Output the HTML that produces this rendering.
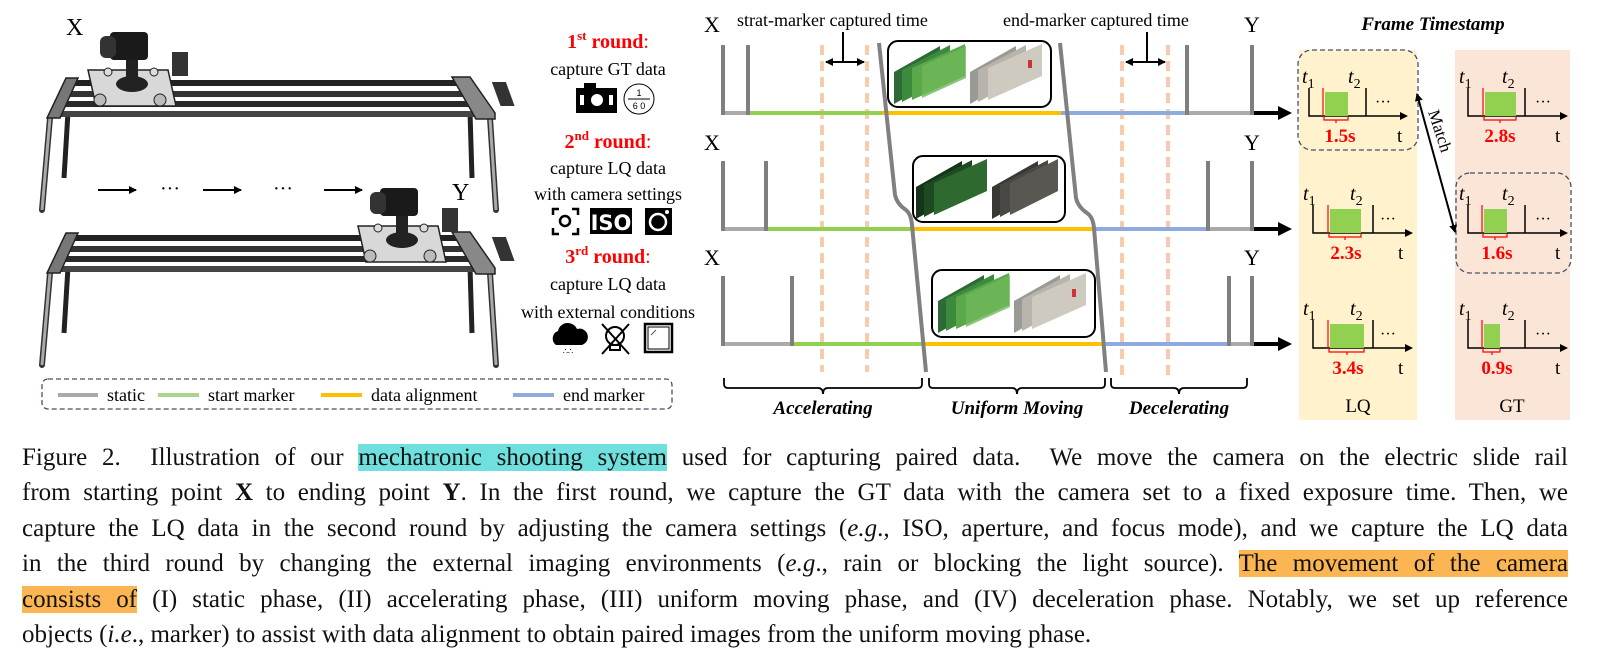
<!DOCTYPE html>
<html><head><meta charset="utf-8"><style>
html,body{margin:0;padding:0;background:#fff;}
body{width:1602px;height:659px;position:relative;overflow:hidden;font-family:"Liberation Serif",serif;}
svg{position:absolute;left:0;top:0;}
.cap{position:absolute;left:22px;width:1546px;font-size:25px;line-height:35.4px;color:#111;}
.cap div{text-align:justify;text-align-last:justify;white-space:nowrap;height:35.4px;}
.cap div.last{text-align-last:left;}
.hc{background:#6fe0de;}
.ho{background:#fbb552;}
</style></head><body>
<svg width="1602" height="430" viewBox="0 0 1602 430" font-family="Liberation Serif, serif">
<defs>
<marker id="ah" markerWidth="8" markerHeight="8" refX="7" refY="4" orient="auto" markerUnits="userSpaceOnUse"><path d="M0,0 L8,4 L0,8 z" fill="#000"/></marker>
<marker id="ah2" markerWidth="8" markerHeight="8" refX="1" refY="4" orient="auto" markerUnits="userSpaceOnUse"><path d="M8,0 L0,4 L8,8 z" fill="#000"/></marker>
<g id="rail">
 <line x1="50" y1="118" x2="42" y2="210" stroke="#333" stroke-width="6" stroke-linecap="round"/>
 <line x1="50" y1="118" x2="42" y2="210" stroke="#aaa" stroke-width="3"/>
 <line x1="68" y1="112" x2="64" y2="178" stroke="#222" stroke-width="5"/>
 <line x1="470" y1="112" x2="472" y2="178" stroke="#222" stroke-width="5"/>
 <line x1="490" y1="118" x2="496" y2="210" stroke="#333" stroke-width="6" stroke-linecap="round"/>
 <line x1="490" y1="118" x2="496" y2="210" stroke="#aaa" stroke-width="3"/>
 <polygon points="72,80 460,80 470,86 62,86" fill="#222"/>
 <rect x="60" y="91" width="420" height="6" fill="#333"/>
 <rect x="55" y="101" width="432" height="6" fill="#2a2a2a"/>
 <rect x="50" y="111" width="442" height="6" fill="#444"/>
 <polygon points="66,78 78,78 60,118 47,118" fill="#777" stroke="#222" stroke-width="1.5"/>
 <polygon points="452,77 470,77 495,113 495,119 476,119" fill="#888" stroke="#222" stroke-width="1.5"/>
 <rect x="462" y="82" width="14" height="24" fill="#333" transform="skewX(20)" />
</g>
<g id="cam">
 <polygon points="0,30 80,30 88,66 8,66" fill="#d8d8d8" stroke="#222" stroke-width="1.5"/>
 <circle cx="12" cy="60" r="6" fill="#bbb" stroke="#222"/><circle cx="72" cy="60" r="6" fill="#bbb" stroke="#222"/>
 <circle cx="20" cy="32" r="4" fill="#ddd" stroke="#222"/><circle cx="66" cy="32" r="4" fill="#ddd" stroke="#222"/>
 <ellipse cx="44" cy="44" rx="16" ry="8" fill="#222"/>
 <rect x="38" y="20" width="12" height="24" fill="#222"/>
 <rect x="22" y="-8" width="38" height="28" rx="4" fill="#1a1a1a"/>
 <rect x="12" y="-4" width="16" height="22" rx="6" fill="#333"/>
 <rect x="84" y="12" width="16" height="24" fill="#333"/>
</g>
</defs>

<use href="#rail"/>
<use href="#rail" transform="translate(0,155)"/>
<use href="#cam" transform="translate(88,40)"/>
<use href="#cam" transform="translate(358,196)"/>
<text x="66" y="35" font-size="24">X</text>
<text x="452" y="200" font-size="24">Y</text>
<g stroke="#000" stroke-width="2">
<line x1="98" y1="190" x2="136" y2="190" marker-end="url(#ah)"/>
<line x1="203" y1="190" x2="241" y2="190" marker-end="url(#ah)"/>
<line x1="324" y1="190" x2="362" y2="190" marker-end="url(#ah)"/>
</g>
<text x="170" y="195" font-size="20" text-anchor="middle">···</text>
<text x="283" y="195" font-size="20" text-anchor="middle">···</text>

<rect x="42" y="379" width="630" height="30" rx="6" fill="none" stroke="#44506a" stroke-width="1.3" stroke-dasharray="5,3"/>
<g stroke-width="4">
<line x1="58" y1="395" x2="98" y2="395" stroke="#aaa"/>
<line x1="158" y1="395" x2="199" y2="395" stroke="#a9d58e"/>
<line x1="321" y1="395" x2="362" y2="395" stroke="#fcc000"/>
<line x1="513" y1="395" x2="554" y2="395" stroke="#8faadc"/>
</g>
<g font-size="18">
<text x="107" y="401">static</text>
<text x="208" y="401">start marker</text>
<text x="371" y="401">data alignment</text>
<text x="563" y="401">end marker</text>
</g>

<g text-anchor="middle">
<text x="608" y="48" font-size="20" font-weight="bold" fill="#f00">1<tspan font-size="13" dy="-8">st</tspan><tspan dy="8"> round</tspan><tspan font-weight="normal">:</tspan></text>
<text x="608" y="75" font-size="18">capture GT data</text>
<text x="608" y="148" font-size="20" font-weight="bold" fill="#f00">2<tspan font-size="13" dy="-8">nd</tspan><tspan dy="8"> round</tspan><tspan font-weight="normal">:</tspan></text>
<text x="608" y="174" font-size="18">capture LQ data</text>
<text x="608" y="200" font-size="18">with camera settings</text>
<text x="608" y="263" font-size="20" font-weight="bold" fill="#f00">3<tspan font-size="13" dy="-8">rd</tspan><tspan dy="8"> round</tspan><tspan font-weight="normal">:</tspan></text>
<text x="608" y="290" font-size="18">capture LQ data</text>
<text x="608" y="318" font-size="18">with external conditions</text>
</g>
<rect x="576" y="88" width="41" height="25" fill="#000"/><rect x="584" y="83" width="12" height="6" fill="#000"/>
<circle cx="597" cy="100" r="6" fill="#fff"/><rect x="580" y="95" width="4" height="10" fill="#fff"/><rect x="609" y="95" width="4" height="10" fill="#fff"/>
<circle cx="639" cy="99" r="15" fill="#fff" stroke="#000" stroke-width="1"/><line x1="628" y1="99" x2="650" y2="99" stroke="#000"/>
<text x="639" y="96" font-size="9" text-anchor="middle" font-family="Liberation Sans,sans-serif">1</text>
<text x="639" y="109" font-size="9" text-anchor="middle" font-family="Liberation Sans,sans-serif">6 0</text>
<g fill="none" stroke="#000" stroke-width="2.5"><path d="M553,215 v-6 h6 M572,209 h6 v6 M578,228 v6 h-6 M559,234 h-6 v-6"/><circle cx="565" cy="221" r="5"/></g>
<rect x="590" y="208" width="42" height="26" fill="#000"/><text x="611" y="230" font-size="21" font-weight="bold" fill="#fff" text-anchor="middle" font-family="DejaVu Sans,sans-serif">ISO</text>
<rect x="645" y="208" width="27" height="27" fill="#000"/><circle cx="658" cy="222" r="8" fill="none" stroke="#fff" stroke-width="2.5"/><circle cx="667" cy="212" r="2" fill="#fff"/>
<path d="M556,345 a8,8 0 0 1 2,-14 a10,10 0 0 1 19,-2 a7,7 0 0 1 5,16 z" fill="#000"/>
<text x="568" y="354" font-size="8" text-anchor="middle">∴∴</text>
<g fill="none" stroke="#000" stroke-width="2"><circle cx="615" cy="336" r="9"/><path d="M610,345 h10 v5 h-10 z"/><line x1="602" y1="324" x2="629" y2="354"/><line x1="629" y1="324" x2="602" y2="354"/></g>
<rect x="645" y="324" width="27" height="28" fill="none" stroke="#000" stroke-width="2.5"/><rect x="648" y="327" width="21" height="22" fill="none" stroke="#000" stroke-width="1"/><line x1="651" y1="335" x2="656" y2="330" stroke="#555"/>

<g font-size="22"><text x="704" y="32">X</text><text x="704" y="150">X</text><text x="704" y="265">X</text>
<text x="1244" y="32">Y</text><text x="1244" y="150">Y</text><text x="1244" y="265">Y</text></g>
<text x="737" y="26" font-size="18">strat-marker captured time</text>
<text x="1003" y="26" font-size="18">end-marker captured time</text>
<g stroke="#f8cbad" stroke-width="4" stroke-dasharray="10,6">
<line x1="822" y1="45" x2="822" y2="372"/><line x1="867" y1="45" x2="867" y2="372"/>
<line x1="1122" y1="45" x2="1122" y2="375"/><line x1="1168" y1="45" x2="1168" y2="375"/>
</g>
<g stroke="#000" stroke-width="2">
<line x1="843" y1="32" x2="843" y2="62"/><line x1="826" y1="62" x2="864" y2="62" marker-start="url(#ah2)" marker-end="url(#ah)"/>
<line x1="1147" y1="32" x2="1147" y2="62"/><line x1="1126" y1="62" x2="1165" y2="62" marker-start="url(#ah2)" marker-end="url(#ah)"/>
</g>
<g stroke-width="4">
<line x1="723" y1="113" x2="748" y2="113" stroke="#aaa"/><line x1="748" y1="113" x2="882" y2="113" stroke="#92d050"/><line x1="882" y1="113" x2="1061" y2="113" stroke="#ffc000"/><line x1="1061" y1="113" x2="1187" y2="113" stroke="#8faadc"/><line x1="1187" y1="113" x2="1252" y2="113" stroke="#aaa"/>
<line x1="723" y1="229" x2="766" y2="229" stroke="#aaa"/><line x1="766" y1="229" x2="911" y2="229" stroke="#92d050"/><line x1="911" y1="229" x2="1093" y2="229" stroke="#ffc000"/><line x1="1093" y1="229" x2="1208" y2="229" stroke="#8faadc"/><line x1="1208" y1="229" x2="1252" y2="229" stroke="#aaa"/>
<line x1="723" y1="344" x2="792" y2="344" stroke="#aaa"/><line x1="792" y1="344" x2="924" y2="344" stroke="#92d050"/><line x1="924" y1="344" x2="1104" y2="344" stroke="#ffc000"/><line x1="1104" y1="344" x2="1229" y2="344" stroke="#8faadc"/><line x1="1229" y1="344" x2="1252" y2="344" stroke="#aaa"/>
</g>
<g stroke="#7f7f7f" stroke-width="4">
<line x1="723" y1="45" x2="723" y2="115"/><line x1="748" y1="45" x2="748" y2="115"/><line x1="1187" y1="45" x2="1187" y2="115"/><line x1="1252" y1="45" x2="1252" y2="115"/>
<line x1="723" y1="161" x2="723" y2="231"/><line x1="766" y1="161" x2="766" y2="231"/><line x1="1208" y1="161" x2="1208" y2="231"/><line x1="1252" y1="161" x2="1252" y2="231"/>
<line x1="723" y1="276" x2="723" y2="346"/><line x1="792" y1="276" x2="792" y2="346"/><line x1="1229" y1="276" x2="1229" y2="346"/><line x1="1252" y1="276" x2="1252" y2="346"/>
</g>
<g stroke="#000" stroke-width="4">
<line x1="1254" y1="113" x2="1280" y2="113"/><line x1="1254" y1="229" x2="1280" y2="229"/><line x1="1254" y1="344" x2="1280" y2="344"/></g>
<polygon points="1278,106 1292,113 1278,120" fill="#000"/><polygon points="1278,222 1292,229 1278,236" fill="#000"/><polygon points="1278,337 1292,344 1278,351" fill="#000"/>
<g fill="none" stroke="#808080" stroke-width="4">
<path d="M879,43 L895,195 Q897,204 906,210 Q911,214 912,225 L926,372"/>
<path d="M1060,43 L1076,198 Q1078,207 1087,213 Q1093,217 1094,228 L1106,372"/>
</g>
<g fill="none" stroke="#000" stroke-width="2">
<rect x="888" y="41" width="163" height="66" rx="10"/>
<rect x="913" y="156" width="152" height="66" rx="10"/>
<rect x="932" y="270" width="163" height="67" rx="10"/>
</g>
<g id="stk1">
<polygon points="894,104 894,72 940,46 940,78" fill="#2d6a35"/>
<polygon points="902,102 902,70 950,45 950,77" fill="#3c8a3e"/>
<polygon points="912,100 912,68 965,44 965,76" fill="#5aa84a"/>
<polygon points="922,98 922,66 966,46 966,78" fill="#6fb85a" opacity=".8"/>
<polygon points="970,104 970,72 1016,46 1016,78" fill="#9a9a95"/>
<polygon points="978,102 978,70 1026,45 1026,77" fill="#b8b4ab"/>
<polygon points="988,100 988,68 1042,44 1042,76" fill="#cfcac0"/>
<rect x="1028" y="60" width="4" height="8" fill="#c33"/>
</g>
<g transform="translate(22,115)"><polygon points="894,104 894,72 940,46 940,78" fill="#14351a"/><polygon points="902,102 902,70 950,45 950,77" fill="#1e4a22"/><polygon points="912,100 912,68 965,44 965,76" fill="#2e6a30"/>
<polygon points="970,104 970,72 1016,46 1016,78" fill="#3a3835"/><polygon points="978,102 978,70 1026,45 1026,77" fill="#4a4844"/><polygon points="988,100 988,68 1036,44 1036,76" fill="#5a5752"/></g>
<use href="#stk1" transform="translate(44,229)"/>
<g fill="none" stroke="#000" stroke-width="1.8">
<path d="M724,378 v6 q0,4 4,4 h90 q5,0 5,6 q0,-6 5,-6 h90 q4,0 4,-4 v-6"/>
<path d="M929,378 v6 q0,4 4,4 h79 q5,0 5,6 q0,-6 5,-6 h79 q4,0 4,-4 v-6"/>
<path d="M1111,378 v6 q0,4 4,4 h59 q5,0 5,6 q0,-6 5,-6 h59 q4,0 4,-4 v-6"/>
</g>
<g font-size="19" font-weight="bold" font-style="italic" text-anchor="middle">
<text x="823" y="414">Accelerating</text><text x="1017" y="414">Uniform Moving</text><text x="1179" y="414">Decelerating</text>
</g>

<text x="1433" y="30" font-size="19" font-weight="bold" font-style="italic" text-anchor="middle">Frame Timestamp</text>
<rect x="1299" y="50" width="118" height="370" fill="#fff2cc"/>
<rect x="1455" y="50" width="115" height="370" fill="#fbe5d6"/>
<text x="1358" y="412" font-size="19" text-anchor="middle">LQ</text>
<text x="1512" y="412" font-size="19" text-anchor="middle">GT</text>
<rect x="1298" y="50" width="120" height="100" rx="14" fill="none" stroke="#44506a" stroke-width="1.3" stroke-dasharray="5,3"/>
<rect x="1456" y="173" width="115" height="100" rx="14" fill="none" stroke="#44506a" stroke-width="1.3" stroke-dasharray="5,3"/>
<line x1="1417" y1="94" x2="1455" y2="232" stroke="#000" stroke-width="2" marker-start="url(#ah2)" marker-end="url(#ah)"/>
<text font-size="17" transform="translate(1428,112) rotate(72)">Match</text>

<g stroke="#000" stroke-width="1.5" fill="none">
<path d="M1309,88 V116 H1402"/><path d="M1366,88 V116"/>
<path d="M1313,205 V233 H1407"/><path d="M1373,205 V233"/>
<path d="M1313,320 V348 H1407"/><path d="M1373,320 V348"/>
<path d="M1468,88 V116 H1562"/><path d="M1525,88 V116"/>
<path d="M1468,205 V233 H1562"/><path d="M1525,205 V233"/>
<path d="M1468,320 V348 H1562"/><path d="M1525,320 V348"/>
</g>
<g fill="#000">
<polygon points="1400,112 1408,116 1400,120"/><polygon points="1405,229 1413,233 1405,237"/><polygon points="1405,344 1413,348 1405,352"/>
<polygon points="1560,112 1568,116 1560,120"/><polygon points="1560,229 1568,233 1560,237"/><polygon points="1560,344 1568,348 1560,352"/>
</g>
<g fill="#92d050">
<rect x="1325" y="92" width="23" height="24"/><rect x="1330" y="209" width="31" height="24"/><rect x="1330" y="324" width="34" height="24"/>
<rect x="1485" y="92" width="31" height="24"/><rect x="1484" y="209" width="23" height="24"/><rect x="1484" y="324" width="16" height="24"/>
</g>
<g stroke="#f00" stroke-width="1.2" fill="none">
<path d="M1323,88 V116"/><path d="M1328,205 V233"/><path d="M1328,320 V348"/><path d="M1483,88 V116"/><path d="M1482,205 V233"/><path d="M1482,320 V348"/>
<path d="M1324,117 v3 h24 v-3 M1336,120 v3"/>
<path d="M1329,234 v3 h32 v-3 M1345,237 v3"/>
<path d="M1329,349 v3 h35 v-3 M1347,352 v3"/>
<path d="M1484,117 v3 h32 v-3 M1500,120 v3"/>
<path d="M1483,234 v3 h24 v-3 M1495,237 v3"/>
<path d="M1483,349 v3 h17 v-3 M1492,352 v3"/>
</g>
<g font-size="20" font-style="italic">
<text x="1302" y="83">t<tspan font-size="14" font-style="normal" dy="5">1</tspan></text><text x="1348" y="83">t<tspan font-size="14" font-style="normal" dy="5">2</tspan></text>
<text x="1303" y="200">t<tspan font-size="14" font-style="normal" dy="5">1</tspan></text><text x="1350" y="200">t<tspan font-size="14" font-style="normal" dy="5">2</tspan></text>
<text x="1303" y="315">t<tspan font-size="14" font-style="normal" dy="5">1</tspan></text><text x="1350" y="315">t<tspan font-size="14" font-style="normal" dy="5">2</tspan></text>
<text x="1459" y="83">t<tspan font-size="14" font-style="normal" dy="5">1</tspan></text><text x="1502" y="83">t<tspan font-size="14" font-style="normal" dy="5">2</tspan></text>
<text x="1459" y="200">t<tspan font-size="14" font-style="normal" dy="5">1</tspan></text><text x="1502" y="200">t<tspan font-size="14" font-style="normal" dy="5">2</tspan></text>
<text x="1459" y="315">t<tspan font-size="14" font-style="normal" dy="5">1</tspan></text><text x="1502" y="315">t<tspan font-size="14" font-style="normal" dy="5">2</tspan></text>
</g>
<g font-size="16"><text x="1375" y="107">···</text><text x="1380" y="224">···</text><text x="1380" y="339">···</text>
<text x="1535" y="107">···</text><text x="1535" y="224">···</text><text x="1535" y="339">···</text></g>
<g font-size="19" font-weight="bold" fill="#f00" text-anchor="middle">
<text x="1340" y="142">1.5s</text><text x="1346" y="259">2.3s</text><text x="1348" y="374">3.4s</text>
<text x="1500" y="142">2.8s</text><text x="1497" y="259">1.6s</text><text x="1497" y="374">0.9s</text>
</g>
<g font-size="19"><text x="1397" y="142">t</text><text x="1398" y="259">t</text><text x="1398" y="374">t</text>
<text x="1555" y="142">t</text><text x="1555" y="259">t</text><text x="1555" y="374">t</text></g>
</svg>

<div class="cap" style="top:440px;">
<div>Figure 2.&nbsp; Illustration of our <span class="hc">mechatronic shooting system</span> used for capturing paired data.&nbsp; We move the camera on the electric slide rail</div>
<div>from starting point <b>X</b> to ending point <b>Y</b>. In the first round, we capture the GT data with the camera set to a fixed exposure time. Then, we</div>
<div>capture the LQ data in the second round by adjusting the camera settings (<i>e.g</i>., ISO, aperture, and focus mode), and we capture the LQ data</div>
<div>in the third round by changing the external imaging environments (<i>e.g</i>., rain or blocking the light source). <span class="ho">The movement of the camera</span></div>
<div><span class="ho">consists of</span> (I) static phase, (II) accelerating phase, (III) uniform moving phase, and (IV) deceleration phase. Notably, we set up reference</div>
<div class="last">objects (<i>i.e</i>., marker) to assist with data alignment to obtain paired images from the uniform moving phase.</div>
</div>
</body></html>
